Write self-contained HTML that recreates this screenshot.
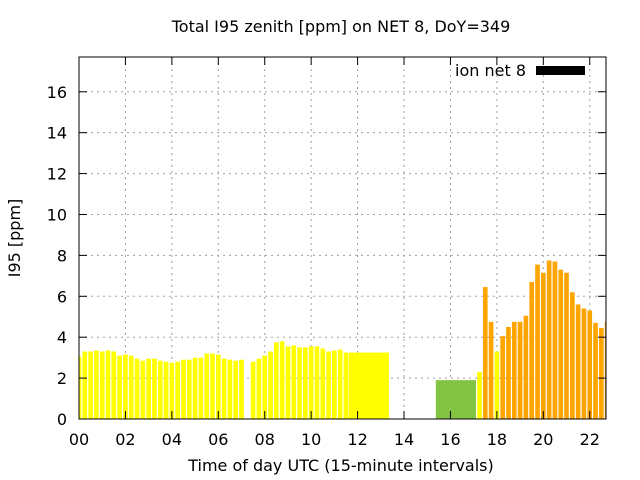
<!DOCTYPE html>
<html><head><meta charset="utf-8"><style>
html,body{margin:0;padding:0;background:#fff;}
svg{display:block;font-family:"DejaVu Sans","Liberation Sans",sans-serif;}
</style></head><body>
<svg id="chart" width="640" height="480" xmlns="http://www.w3.org/2000/svg">
<text x="341" y="32" font-size="16" text-anchor="middle">Total I95 zenith [ppm] on NET 8, DoY=349</text>
<text x="341" y="471" font-size="16" text-anchor="middle">Time of day UTC (15-minute intervals)</text>
<text x="20" y="238" font-size="16" text-anchor="middle" transform="rotate(-90 20 238)">I95 [ppm]</text>
<g id="grid"></g>
<g id="bars"></g>
<g id="axes"></g>
<g>
<text x="526" y="76" font-size="16" text-anchor="end">ion net 8</text>
<rect x="536" y="66" width="49" height="9" fill="#000"/>
</g>
</svg>
<script>
// Data: 15-minute slot values (index*0.25 h), null = no data
const earlyValues = [3.05,3.3,3.3,3.35,3.3,3.35,3.3,3.1,3.15,3.1,2.95,2.85,2.95,2.95,2.85,2.8,2.75,2.8,2.9,2.9,3.0,3.0,3.2,3.2,3.15,2.95,2.9,2.85,2.9,null,2.8,2.95,3.1,3.3,3.75,3.8,3.55,3.6,3.5,3.5,3.55,3.55,3.45,3.3,3.35,3.4,3.25];
const lateStartSlot = 69;
const lateValues = [2.3,6.45,4.75,3.3,4.05,4.5,4.75,4.75,5.05,6.7,7.55,7.15,7.75,7.7,7.3,7.15,6.2,5.6,5.4,5.3,4.7,4.45,4.75];
const lateColors = ["y","o","o","y","o","o","o","o","o","o","o","o","o","o","o","o","o","o","o","o","o","o","o"];
// Continuous blocks: [startHour, endHour, value, colorKey]
const blockStarts = [11.62, 15.37];
const blockEnds = [13.35, 17.1];
const blockValues = [3.25, 1.9];
const blockColors = ["y","g"];
const yTicks = [0,2,4,6,8,10,12,14,16];
const xTicks = [0,2,4,6,8,10,12,14,16,18,20,22];
const xTickLabels = ["00","02","04","06","08","10","12","14","16","18","20","22"];

const L=79,R=606,T=57,B=419, XMAX=22.7, YMAX=17.7;
const colorMap={y:"#ffff00",o:"#ffa500",g:"#82c341"};
const xs=h=>L+h/XMAX*(R-L);
const ys=v=>B-v/YMAX*(B-T);
const NS="http://www.w3.org/2000/svg";
function mk(tag,attrs,parent){const e=document.createElementNS(NS,tag);for(const k in attrs)e.setAttribute(k,attrs[k]);parent.appendChild(e);return e;}
const grid=document.getElementById('grid'),bars=document.getElementById('bars'),axes=document.getElementById('axes');

yTicks.forEach((v,i)=>{
  if(v>0){const g=mk('line',{x1:L,x2:R,y1:ys(v),y2:ys(v),stroke:"#a0a0a0","stroke-dasharray":"2,4"},grid);
  
  }
  const t=mk('text',{x:L-12,y:ys(v)+6,"font-size":16,"text-anchor":"end"},axes);t.textContent=v;
  
  
  [[L,L+8],[R-8,R]].forEach(p=>mk('line',{x1:p[0],x2:p[1],y1:ys(v),y2:ys(v),stroke:"#000"},axes));
});
xTicks.forEach((h,i)=>{
  if(h>0){const g=mk('line',{x1:xs(h),x2:xs(h),y1:T,y2:B,stroke:"#a0a0a0","stroke-dasharray":"2,4"},grid);
  
  }
  const t=mk('text',{x:xs(h),y:B+26,"font-size":16,"text-anchor":"middle"},axes);t.textContent=xTickLabels[i];
  
  
  [[B-8,B],[T,T+8]].forEach(p=>mk('line',{x1:xs(h),x2:xs(h),y1:p[0],y2:p[1],stroke:"#000"},axes));
});

const clip=mk('clipPath',{id:"pc"},document.getElementById('chart'));
mk('rect',{x:L,y:T,width:R-L,height:B-T},clip);
bars.setAttribute('clip-path','url(#pc)');
const bw=0.2;
function bar(h,v,c){
  const r=mk('rect',{x:xs(h-bw/2),y:ys(v),width:xs(bw)-L,height:B-ys(v),fill:colorMap[c]},bars);
  
  
}
earlyValues.forEach((v,i)=>{if(v!==null)bar(i*0.25,v,"y");});
lateValues.forEach((v,i)=>bar((lateStartSlot+i)*0.25,v,lateColors[i]));
blockValues.forEach((v,i)=>{
  const r=mk('rect',{x:xs(blockStarts[i]),y:ys(v),width:xs(blockEnds[i])-xs(blockStarts[i]),height:B-ys(v),fill:colorMap[blockColors[i]]},bars);
  
  
});
const f=mk('rect',{x:L,y:T,width:R-L,height:B-T,fill:"none",stroke:"#000","stroke-width":1},axes);


</script>
</body></html>
